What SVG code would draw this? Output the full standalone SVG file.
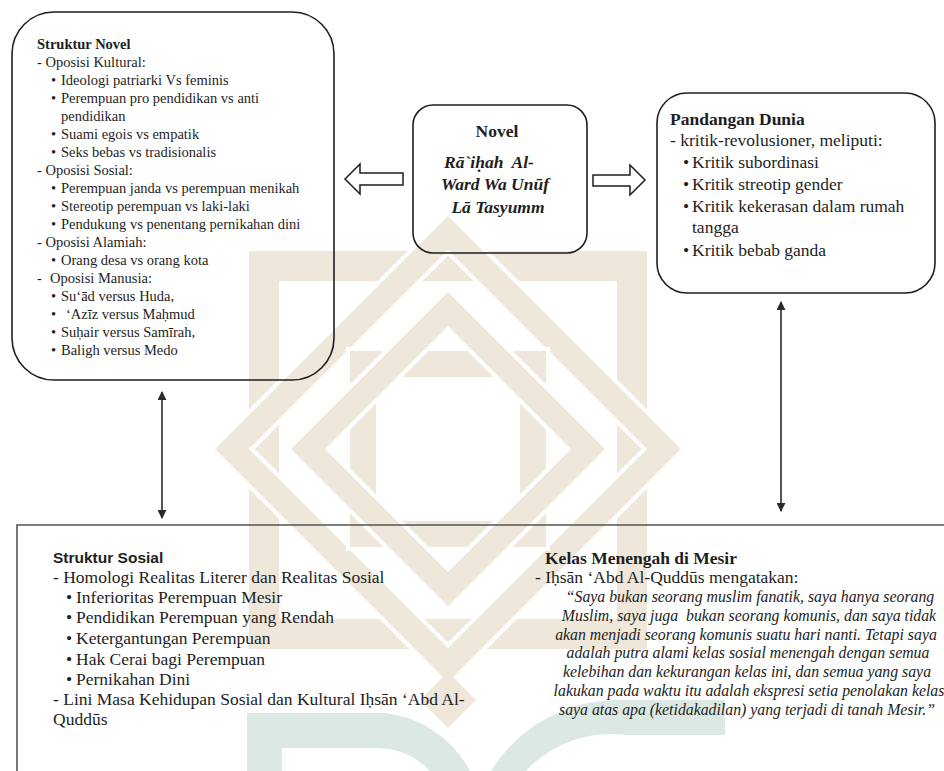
<svg xmlns="http://www.w3.org/2000/svg" width="944" height="771" viewBox="0 0 944 771">
<defs>
<style>
.box{fill:none;stroke:#1e1e1e;stroke-width:1.6}
.sbox{fill:none;stroke:#555;stroke-width:1.6}
.t{font-family:"Liberation Serif","Times New Roman",serif;fill:#1e1e1e}
.s14{font-size:14.5px}
.s17{font-size:17.5px}
.b{font-weight:bold}
.q{font-family:"Liberation Serif","Times New Roman",serif;font-style:italic;font-size:15.8px;fill:#222;text-anchor:middle}
.sans{font-family:"Liberation Sans",Arial,sans-serif;font-weight:bold;font-size:15.5px;fill:#1e1e1e}
.wm{fill:none;stroke:#efe7d9;stroke-linejoin:miter}
.wg{fill:none;stroke:#ffffff;stroke-linejoin:miter}
.wt{fill:#dce8e3}
.blk{fill:none;stroke:#1e1e1e;stroke-width:1.5;stroke-linejoin:miter}
.con{stroke:#2a2a2a;stroke-width:1.6;fill:none}
</style>
<marker id="ah" viewBox="0 0 10 10" refX="9" refY="5" markerWidth="9" markerHeight="9" markerUnits="userSpaceOnUse" orient="auto-start-reverse">
<path d="M0,0 L10,5 L0,10 z" fill="#2a2a2a"/>
</marker>
</defs>
<rect width="944" height="771" fill="#ffffff"/>
<g id="watermark">
<rect class="wm" x="264" y="266" width="368" height="368" stroke-width="30"/>
<polygon class="wg" points="448,233 664,449 448,665 232,449" stroke-width="32"/>
<polygon class="wm" points="448,233 664,449 448,665 232,449" stroke-width="24"/>
<rect class="wg" x="363" y="364" width="170" height="170" stroke-width="34"/>
<rect class="wm" x="363" y="364" width="170" height="170" stroke-width="26"/>
<polygon class="wg" points="448,309 588,449 448,589 308,449" stroke-width="32"/>
<polygon class="wm" points="448,309 588,449 448,589 308,449" stroke-width="24"/>
<polygon fill="#efe7d9" points="448,672 476,700 448,728 420,700"/>
<path class="wt" d="M247,713 H385 A 110 110 0 0 1 470,771 H430 A 75 75 0 0 0 378,748 H282 V771 H247 Z"/>
<path class="wt" d="M491,771 A 150 150 0 0 1 620,700 H725 V735 H625 A 115 115 0 0 0 526,771 Z"/>
</g>
<g id="connectors">
<polygon class="blk" points="345,179 360,164 360,173 403,173 403,185 360,185 360,194"/>
<polygon class="blk" points="593,175 630,175 630,165 645,180 630,195 630,186 593,186"/>
<line class="con" x1="162" y1="392" x2="162" y2="518" marker-start="url(#ah)" marker-end="url(#ah)"/>
<line class="con" x1="781" y1="302" x2="781" y2="511" marker-start="url(#ah)" marker-end="url(#ah)"/>
</g>
<g id="struktur-novel">
<rect class="box" x="12" y="12" width="322" height="368" rx="42" ry="42"/>
<text class="t s14 b" x="37" y="49">Struktur Novel</text>
<text class="t s14" x="37" y="67">- Oposisi Kultural:</text>
<g class="t s14">
<text x="51" y="85">•</text><text x="61" y="85">Ideologi patriarki Vs feminis</text>
<text x="51" y="103">•</text><text x="61" y="103">Perempuan pro pendidikan vs anti</text>
<text x="61" y="121">pendidikan</text>
<text x="51" y="139">•</text><text x="61" y="139">Suami egois vs empatik</text>
<text x="51" y="157">•</text><text x="61" y="157">Seks bebas vs tradisionalis</text>
<text x="37" y="175">- Oposisi Sosial:</text>
<text x="51" y="193">•</text><text x="61" y="193">Perempuan janda vs perempuan menikah</text>
<text x="51" y="211">•</text><text x="61" y="211">Stereotip perempuan vs laki-laki</text>
<text x="51" y="229">•</text><text x="61" y="229">Pendukung vs penentang pernikahan dini</text>
<text x="37" y="247">- Oposisi Alamiah:</text>
<text x="51" y="265">•</text><text x="61" y="265">Orang desa vs orang kota</text>
<text x="37" y="283">-</text><text x="50" y="283">Oposisi Manusia:</text>
<text x="51" y="301">•</text><text x="61" y="301">Su‘ād versus Huda,</text>
<text x="51" y="319">•</text><text x="66" y="319">‘Azīz versus Maḥmud</text>
<text x="51" y="337">•</text><text x="61" y="337">Suḥair versus Samīrah,</text>
<text x="51" y="355">•</text><text x="61" y="355">Baligh versus Medo</text>
</g>
</g>
<g id="novel">
<rect class="box" x="413" y="105" width="174" height="148" rx="20" ry="20"/>
<text class="t s17 b" x="497" y="137" text-anchor="middle">Novel</text>
<text class="t s17 b" x="489" y="168" text-anchor="middle" font-style="italic" xml:space="preserve">Rā`iḥah  Al-</text>
<text class="t s17 b" x="495" y="190" text-anchor="middle" font-style="italic">Ward Wa Unūf</text>
<text class="t s17 b" x="498" y="213" text-anchor="middle" font-style="italic">Lā Tasyumm</text>
</g>
<g id="pandangan-dunia">
<rect class="box" x="657" y="93" width="278" height="200" rx="30" ry="30"/>
<text class="t s17 b" x="670" y="125">Pandangan Dunia</text>
<text class="t s17" x="670" y="146">- kritik-revolusioner, meliputi:</text>
<g class="t s17">
<text x="683" y="168">•</text><text x="692" y="168">Kritik subordinasi</text>
<text x="683" y="190">•</text><text x="692" y="190">Kritik streotip gender</text>
<text x="683" y="212">•</text><text x="692" y="212">Kritik kekerasan dalam rumah</text>
<text x="692" y="233">tangga</text>
<text x="683" y="256">•</text><text x="692" y="256">Kritik bebab ganda</text>
</g>
</g>
<g id="struktur-sosial">
<path class="sbox" d="M944,525 H17 V771"/>
<text class="sans" x="53" y="563">Struktur Sosial</text>
<g class="t s17">
<text x="53" y="583">- Homologi Realitas Literer dan Realitas Sosial</text>
<text x="66" y="603">•</text><text x="76" y="603">Inferioritas Perempuan Mesir</text>
<text x="66" y="623">•</text><text x="76" y="623">Pendidikan Perempuan yang Rendah</text>
<text x="66" y="644">•</text><text x="76" y="644">Ketergantungan Perempuan</text>
<text x="66" y="665">•</text><text x="76" y="665">Hak Cerai bagi Perempuan</text>
<text x="66" y="685">•</text><text x="76" y="685">Pernikahan Dini</text>
<text x="53" y="705">- Lini Masa Kehidupan Sosial dan Kultural Iḥsān ‘Abd Al-</text>
<text x="53" y="725">Quddūs</text>
</g>
</g>
<g id="kelas-menengah">
<text class="t s17 b" x="545" y="564">Kelas Menengah di Mesir</text>
<text class="t s17" x="535" y="583">- Iḥsān ‘Abd Al-Quddūs mengatakan:</text>
<text class="q" x="750" y="602">“Saya bukan seorang muslim fanatik, saya hanya seorang</text>
<text class="q" x="749" y="621" xml:space="preserve">Muslim, saya juga  bukan seorang komunis, dan saya tidak</text>
<text class="q" x="746" y="640">akan menjadi seorang komunis suatu hari nanti. Tetapi saya</text>
<text class="q" x="748" y="658">adalah putra alami kelas sosial menengah dengan semua</text>
<text class="q" x="747" y="677">kelebihan dan kekurangan kelas ini, dan semua yang saya</text>
<text class="q" x="749" y="696">lakukan pada waktu itu adalah ekspresi setia penolakan kelas</text>
<text class="q" x="747" y="715">saya atas apa (ketidakadilan) yang terjadi di tanah Mesir.”</text>
</g>
</svg>
